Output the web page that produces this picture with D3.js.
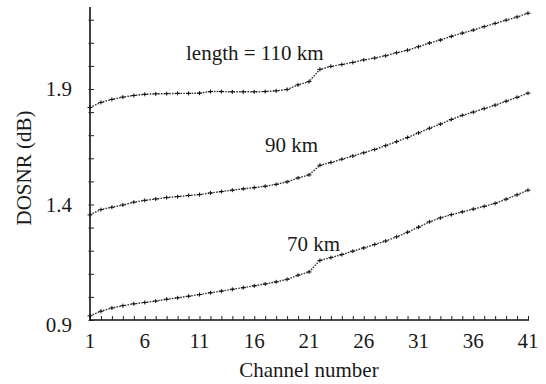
<!DOCTYPE html>
<html><head><meta charset="utf-8">
<script src="https://cdn.jsdelivr.net/npm/d3@7"></script>
</head>
<body style="margin:0"><svg id="c" width="546" height="384"></svg>
<script>
const channels = d3.range(1, 42);
const xTickLabels = [1, 6, 11, 16, 21, 26, 31, 36, 41];
const yTickLabels = [0.9, 1.4, 1.9];
const seriesNames = ["length = 110 km", "90 km", "70 km"];
const len110 = [1.82,1.842,1.855,1.865,1.872,1.877,1.879,1.880,1.881,1.881,1.882,1.889,1.889,1.888,1.888,1.888,1.889,1.892,1.898,1.918,1.932,1.985,1.998,2.006,2.015,2.026,2.034,2.044,2.057,2.068,2.083,2.099,2.112,2.128,2.142,2.155,2.170,2.184,2.198,2.212,2.228];
const len90 = [1.355,1.378,1.388,1.398,1.41,1.418,1.424,1.430,1.434,1.439,1.443,1.45,1.456,1.462,1.468,1.473,1.479,1.487,1.498,1.515,1.528,1.570,1.582,1.596,1.61,1.624,1.638,1.655,1.672,1.69,1.71,1.73,1.748,1.768,1.786,1.80,1.815,1.83,1.847,1.864,1.882];
const len70 = [0.918,0.938,0.952,0.962,0.970,0.976,0.982,0.99,0.996,1.003,1.01,1.018,1.025,1.033,1.04,1.048,1.056,1.065,1.076,1.094,1.108,1.158,1.17,1.183,1.198,1.212,1.227,1.242,1.26,1.28,1.302,1.325,1.342,1.356,1.368,1.38,1.392,1.405,1.423,1.442,1.462];
const allSeries = [len110, len90, len70];
const labelPos = [[186,60],[265,152],[287,251]];
const FONT = "Liberation Serif";

const svg = d3.select("#c");
const x = d3.scaleLinear().domain([1, 41]).range([90, 528]);
const y = d3.scaleLinear().domain([0.9, 2.255]).range([320, 7]);

function txt(sel){
  return sel.style("font-family", FONT, "important").attr("font-family", FONT)
    .style("fill", "#1a1a1a").attr("font-size", 21).style("font-size", "21px");
}

// x axis
const xAxis = d3.axisBottom(x).tickValues(channels).tickSize(0).tickFormat("");
const gx = svg.append("g").attr("transform","translate(0,320)").call(xAxis);
gx.attr("font-family", null);
gx.select(".domain").attr("stroke","#111").attr("stroke-width",1.6).attr("d","M89,0H529");
gx.selectAll(".tick line").attr("y2",-4).attr("stroke","#222").attr("stroke-width",1);
gx.selectAll(".tick text").remove();
txt(svg.append("g").selectAll("text").data(xTickLabels).join("text")
  .attr("x", d=>x(d)).attr("y", 348).attr("text-anchor","middle")).text(d=>d);

// y axis
const minorY = d3.range(9, 23).map(d=>d/10);
const yAxis = d3.axisLeft(y).tickValues(minorY).tickSize(0).tickFormat("");
const gy = svg.append("g").attr("transform","translate(90,0)").call(yAxis);
gy.attr("font-family", null);
gy.select(".domain").attr("stroke","#111").attr("stroke-width",1.6).attr("d","M0,7V321");
gy.selectAll(".tick line").attr("x1",-1.5).attr("x2",4).attr("stroke","#222").attr("stroke-width",1);
gy.selectAll(".tick text").remove();
txt(svg.append("g").selectAll("text").data(yTickLabels).join("text")
  .attr("x", 72).attr("y", d=>y(d) + (d===0.9?12:7)).attr("text-anchor","end")).text(d=>d.toFixed(1));

// axis titles
txt(svg.append("text").attr("x",309).attr("y",377).attr("text-anchor","middle")).text("Channel number");
txt(svg.append("text").attr("transform","translate(31,168) rotate(-90)").attr("text-anchor","middle")).text("DOSNR (dB)");

// series
const line = d3.line().x((d,i)=>x(channels[i])).y(d=>y(d));
allSeries.forEach((s,k)=>{
  svg.append("path").attr("d",line(s)).attr("fill","none").attr("stroke","#333")
    .attr("stroke-width",1.4).attr("stroke-dasharray","1.6,1.2");
  svg.append("g").selectAll("path").data(s).join("path")
    .attr("d",(d,i)=>{const cx=x(channels[i]), cy=y(d); return `M${cx-2.5},${cy}H${cx+2.5}M${cx},${cy-2}V${cy+2}`;})
    .attr("stroke","#111").attr("stroke-width",1);
  txt(svg.append("text").attr("x",labelPos[k][0]).attr("y",labelPos[k][1])).text(seriesNames[k]);
});
</script></body></html>
